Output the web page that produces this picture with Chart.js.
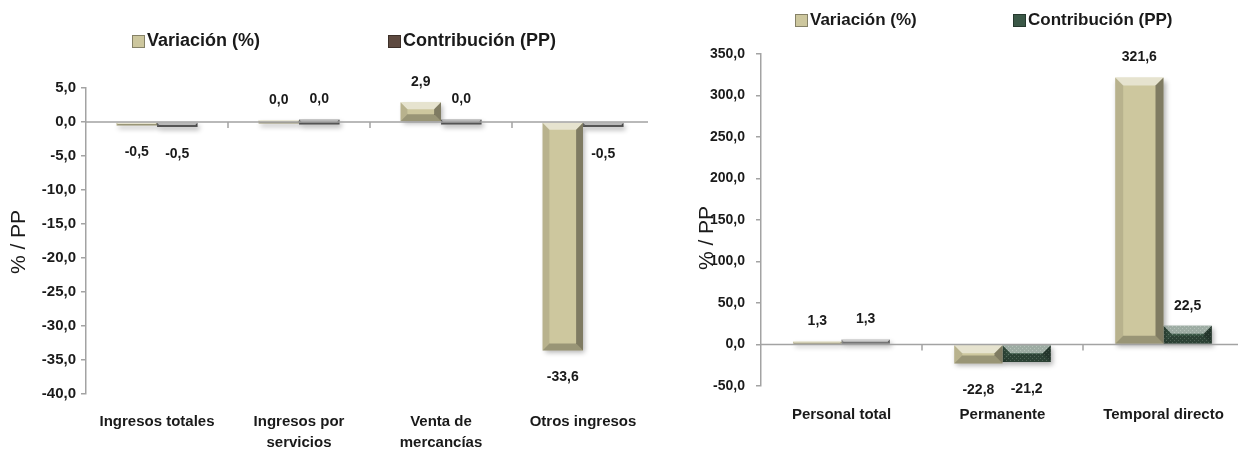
<!DOCTYPE html>
<html>
<head>
<meta charset="utf-8">
<script src="https://cdn.jsdelivr.net/npm/chart.js@4.4.0/dist/chart.umd.min.js"></script>
<style>
body{margin:0;background:#fff;}
#wrap{position:relative;width:1238px;height:450px;overflow:hidden;background:#fff;}
#leftBox{position:absolute;left:0;top:0;width:648px;height:450px;overflow:hidden;}
#rightBox{position:absolute;left:650px;top:0;width:588px;height:450px;overflow:hidden;background:#fff;}
</style>
</head>
<body>
<div id="wrap">
  <div id="leftBox"><canvas id="leftChart" width="660" height="450"></canvas></div>
  <div id="rightBox"><canvas id="rightChart" width="594" height="450"></canvas></div>
</div>
<script>
// =========================
// DATA
// =========================

const seriesNames = ['Variación (%)', 'Contribución (PP)'];

const leftCategories = [
    'Ingresos totales',
    ['Ingresos por', 'servicios'],
    ['Venta de', 'mercancías'],
    'Otros ingresos'
];
const leftVariacion = [-0.5, 0.0, 2.9, -33.6];
const leftContribucion = [-0.5, 0.0, 0.0, -0.5];
const leftTickMin = -40;
const leftTickMax = 5;
const leftTickStep = 5;

const rightCategories = ['Personal total', 'Permanente', 'Temporal directo'];
const rightVariacion = [1.3, -22.8, 321.6];
const rightContribucion = [1.3, -21.2, 22.5];
const rightTickMin = -50;
const rightTickMax = 350;
const rightTickStep = 50;

const axisTitle = '% / PP';

// =========================
// STYLE
// =========================

const FONT = '"Liberation Sans", Arial, sans-serif';
const TEXT = '#1a1a1a';
const AXIS = '#a3a3a3';
const BEIGE = '#cdc79e';
const GRAY = '#727272';

function fmt(v){
    return v.toFixed(1).replace('.', ',');
}

function greenPattern(){
    const c = document.createElement('canvas');
    c.width = 4; c.height = 4;
    const g = c.getContext('2d');
    g.fillStyle = '#3b5847';
    g.fillRect(0, 0, 4, 4);
    g.fillStyle = '#6a8573';
    g.fillRect(0, 0, 1, 1);
    g.fillRect(2, 2, 1, 1);
    return g.createPattern(c, 'repeat');
}

function poly(ctx, pts, color){
    ctx.beginPath();
    ctx.moveTo(pts[0][0], pts[0][1]);
    for (let i = 1; i < pts.length; i++) ctx.lineTo(pts[i][0], pts[i][1]);
    ctx.closePath();
    ctx.fillStyle = color;
    ctx.fill();
}

// =========================
// PLUGINS
// =========================

const zeroLine = {
    id: 'zeroLine',
    afterDatasetsDraw(chart){
        const ctx = chart.ctx;
        const area = chart.chartArea;
        const x = chart.scales.x;
        const y0 = chart.scales.y.getPixelForValue(0);
        ctx.save();
        ctx.strokeStyle = AXIS;
        ctx.lineWidth = 1.5;
        ctx.beginPath();
        ctx.moveTo(area.left, y0);
        ctx.lineTo(area.right, y0);
        const n = chart.data.labels.length;
        for (let i = 0; i < n - 1; i++) {
            const bx = (x.getPixelForValue(i) + x.getPixelForValue(i + 1)) / 2;
            ctx.moveTo(bx, y0);
            ctx.lineTo(bx, y0 + 6);
        }
        ctx.stroke();
        ctx.restore();
    }
};

const bevel = {
    id: 'bevel',
    beforeDatasetsDraw(chart){
        const ctx = chart.ctx;
        ctx.save();
        ctx.shadowColor = 'rgba(0,0,0,0.3)';
        ctx.shadowBlur = 5;
        ctx.shadowOffsetX = 2;
        ctx.shadowOffsetY = 3;
    },
    afterDatasetsDraw(chart){
        const ctx = chart.ctx;
        ctx.restore();
        ctx.save();
        chart.data.datasets.forEach((ds, di) => {
            chart.getDatasetMeta(di).data.forEach(bar => {
                const l = bar.x - bar.width / 2, r = bar.x + bar.width / 2;
                const t = Math.min(bar.y, bar.base), b = Math.max(bar.y, bar.base);
                const e = Math.min(8, bar.width * 0.17, (b - t) / 2);
                if (e < 1) return;
                poly(ctx, [[l, t], [r, t], [r - e, t + e], [l + e, t + e]], 'rgba(255,255,255,0.5)');
                poly(ctx, [[l, b], [r, b], [r - e, b - e], [l + e, b - e]], 'rgba(0,0,0,0.25)');
                poly(ctx, [[l, t], [l + e, t + e], [l + e, b - e], [l, b]], 'rgba(0,0,0,0.1)');
                poly(ctx, [[r, t], [r - e, t + e], [r - e, b - e], [r, b]], 'rgba(0,0,0,0.38)');
            });
        });
        ctx.restore();
    }
};

const valueLabels = {
    id: 'valueLabels',
    afterDatasetsDraw(chart, args, opts){
        const ctx = chart.ctx;
        ctx.save();
        ctx.font = 'bold 14px ' + FONT;
        ctx.fillStyle = TEXT;
        ctx.textAlign = 'center';
        ctx.textBaseline = 'middle';
        chart.data.datasets.forEach((ds, di) => {
            chart.getDatasetMeta(di).data.forEach((bar, i) => {
                const v = ds.data[i];
                const t = Math.min(bar.y, bar.base), b = Math.max(bar.y, bar.base);
                const y = v >= 0 ? t - opts.above : b + opts.below;
                ctx.fillText(fmt(v), bar.x, y);
            });
        });
        ctx.restore();
    }
};

const customLegend = {
    id: 'customLegend',
    afterDraw(chart, args, opts){
        const ctx = chart.ctx;
        ctx.save();
        ctx.font = 'bold ' + opts.size + 'px ' + FONT;
        ctx.textBaseline = 'middle';
        ctx.textAlign = 'left';
        opts.items.forEach((it, i) => {
            ctx.fillStyle = it.color;
            ctx.fillRect(it.x, opts.y - 6, 13, 13);
            ctx.strokeStyle = 'rgba(0,0,0,0.35)';
            ctx.lineWidth = 1;
            ctx.strokeRect(it.x + 0.5, opts.y - 5.5, 12, 12);
            ctx.fillStyle = TEXT;
            ctx.fillText(seriesNames[i], it.x + 15, opts.y);
        });
        ctx.restore();
    }
};

const sideTitle = {
    id: 'sideTitle',
    afterDraw(chart, args, opts){
        const ctx = chart.ctx;
        ctx.save();
        ctx.translate(opts.x, opts.y);
        ctx.rotate(-Math.PI / 2);
        ctx.font = '21px ' + FONT;
        ctx.fillStyle = TEXT;
        ctx.textAlign = 'center';
        ctx.textBaseline = 'middle';
        ctx.fillText(axisTitle, 0, 0);
        ctx.restore();
    }
};

// =========================
// CHART BUILDER
// =========================

function makeChart(id, cfg){
    return new Chart(document.getElementById(id), {
        type: 'bar',
        data: {
            labels: cfg.labels,
            datasets: [
                {
                    label: seriesNames[0],
                    data: cfg.variacion,
                    backgroundColor: BEIGE,
                    borderWidth: 0,
                    minBarLength: 3,
                    categoryPercentage: cfg.catPct,
                    barPercentage: 1
                },
                {
                    label: seriesNames[1],
                    data: cfg.contribucion,
                    backgroundColor: cfg.contribColor,
                    borderWidth: 0,
                    minBarLength: 5,
                    categoryPercentage: cfg.catPct,
                    barPercentage: 1
                }
            ]
        },
        plugins: [bevel, zeroLine, valueLabels, customLegend, sideTitle],
        options: {
            responsive: false,
            animation: false,
            devicePixelRatio: 1,
            layout: {
                padding: { top: cfg.top, right: cfg.padRight, bottom: 0, left: 0 }
            },
            plugins: {
                legend: { display: false },
                tooltip: { enabled: false },
                valueLabels: { above: 20, below: 27 },
                customLegend: cfg.legend,
                sideTitle: cfg.title
            },
            scales: {
                x: {
                    grid: { display: false },
                    border: { display: false },
                    ticks: {
                        color: TEXT,
                        font: { family: FONT, size: 15, weight: 'bold', lineHeight: 1.4 },
                        padding: cfg.xPad,
                        maxRotation: 0,
                        autoSkip: false
                    },
                    afterFit(scale){ scale.height = cfg.xHeight; }
                },
                y: {
                    min: cfg.min,
                    max: cfg.max,
                    grid: {
                        drawOnChartArea: false,
                        color: AXIS,
                        lineWidth: 1.5,
                        tickLength: 5
                    },
                    border: { color: AXIS, width: 1.5 },
                    ticks: {
                        stepSize: cfg.step,
                        color: TEXT,
                        font: { family: FONT, size: cfg.ySize, weight: 'bold' },
                        padding: cfg.yPad,
                        callback: v => fmt(v)
                    },
                    afterFit(scale){ scale.width = cfg.yWidth; }
                }
            }
        }
    });
}

// =========================
// LEFT CHART
// =========================

makeChart('leftChart', {
    labels: leftCategories,
    variacion: leftVariacion,
    contribucion: leftContribucion,
    contribColor: GRAY,
    catPct: 0.57,
    min: leftTickMin,
    max: leftTickMax,
    step: leftTickStep,
    top: 88,
    padRight: 6,
    xHeight: 56,
    xPad: 9,
    yPad: 5,
    ySize: 15,
    yWidth: 86,
    legend: { y: 41, size: 18, items: [{ x: 132, color: BEIGE }, { x: 388, color: '#5e4a40' }] },
    title: { x: 19, y: 242 }
});

// =========================
// RIGHT CHART
// =========================

makeChart('rightChart', {
    labels: rightCategories,
    variacion: rightVariacion,
    contribucion: rightContribucion,
    contribColor: ['#9c9c9c', greenPattern(), greenPattern()],
    catPct: 0.6,
    min: rightTickMin,
    max: rightTickMax,
    step: rightTickStep,
    top: 54,
    padRight: 0,
    xHeight: 64,
    xPad: 10,
    yPad: 11,
    ySize: 14,
    yWidth: 111,
    legend: { y: 20, size: 17, items: [{ x: 145, color: BEIGE }, { x: 363, color: '#3b5847' }] },
    title: { x: 57, y: 238 }
});
</script>
</body>
</html>
